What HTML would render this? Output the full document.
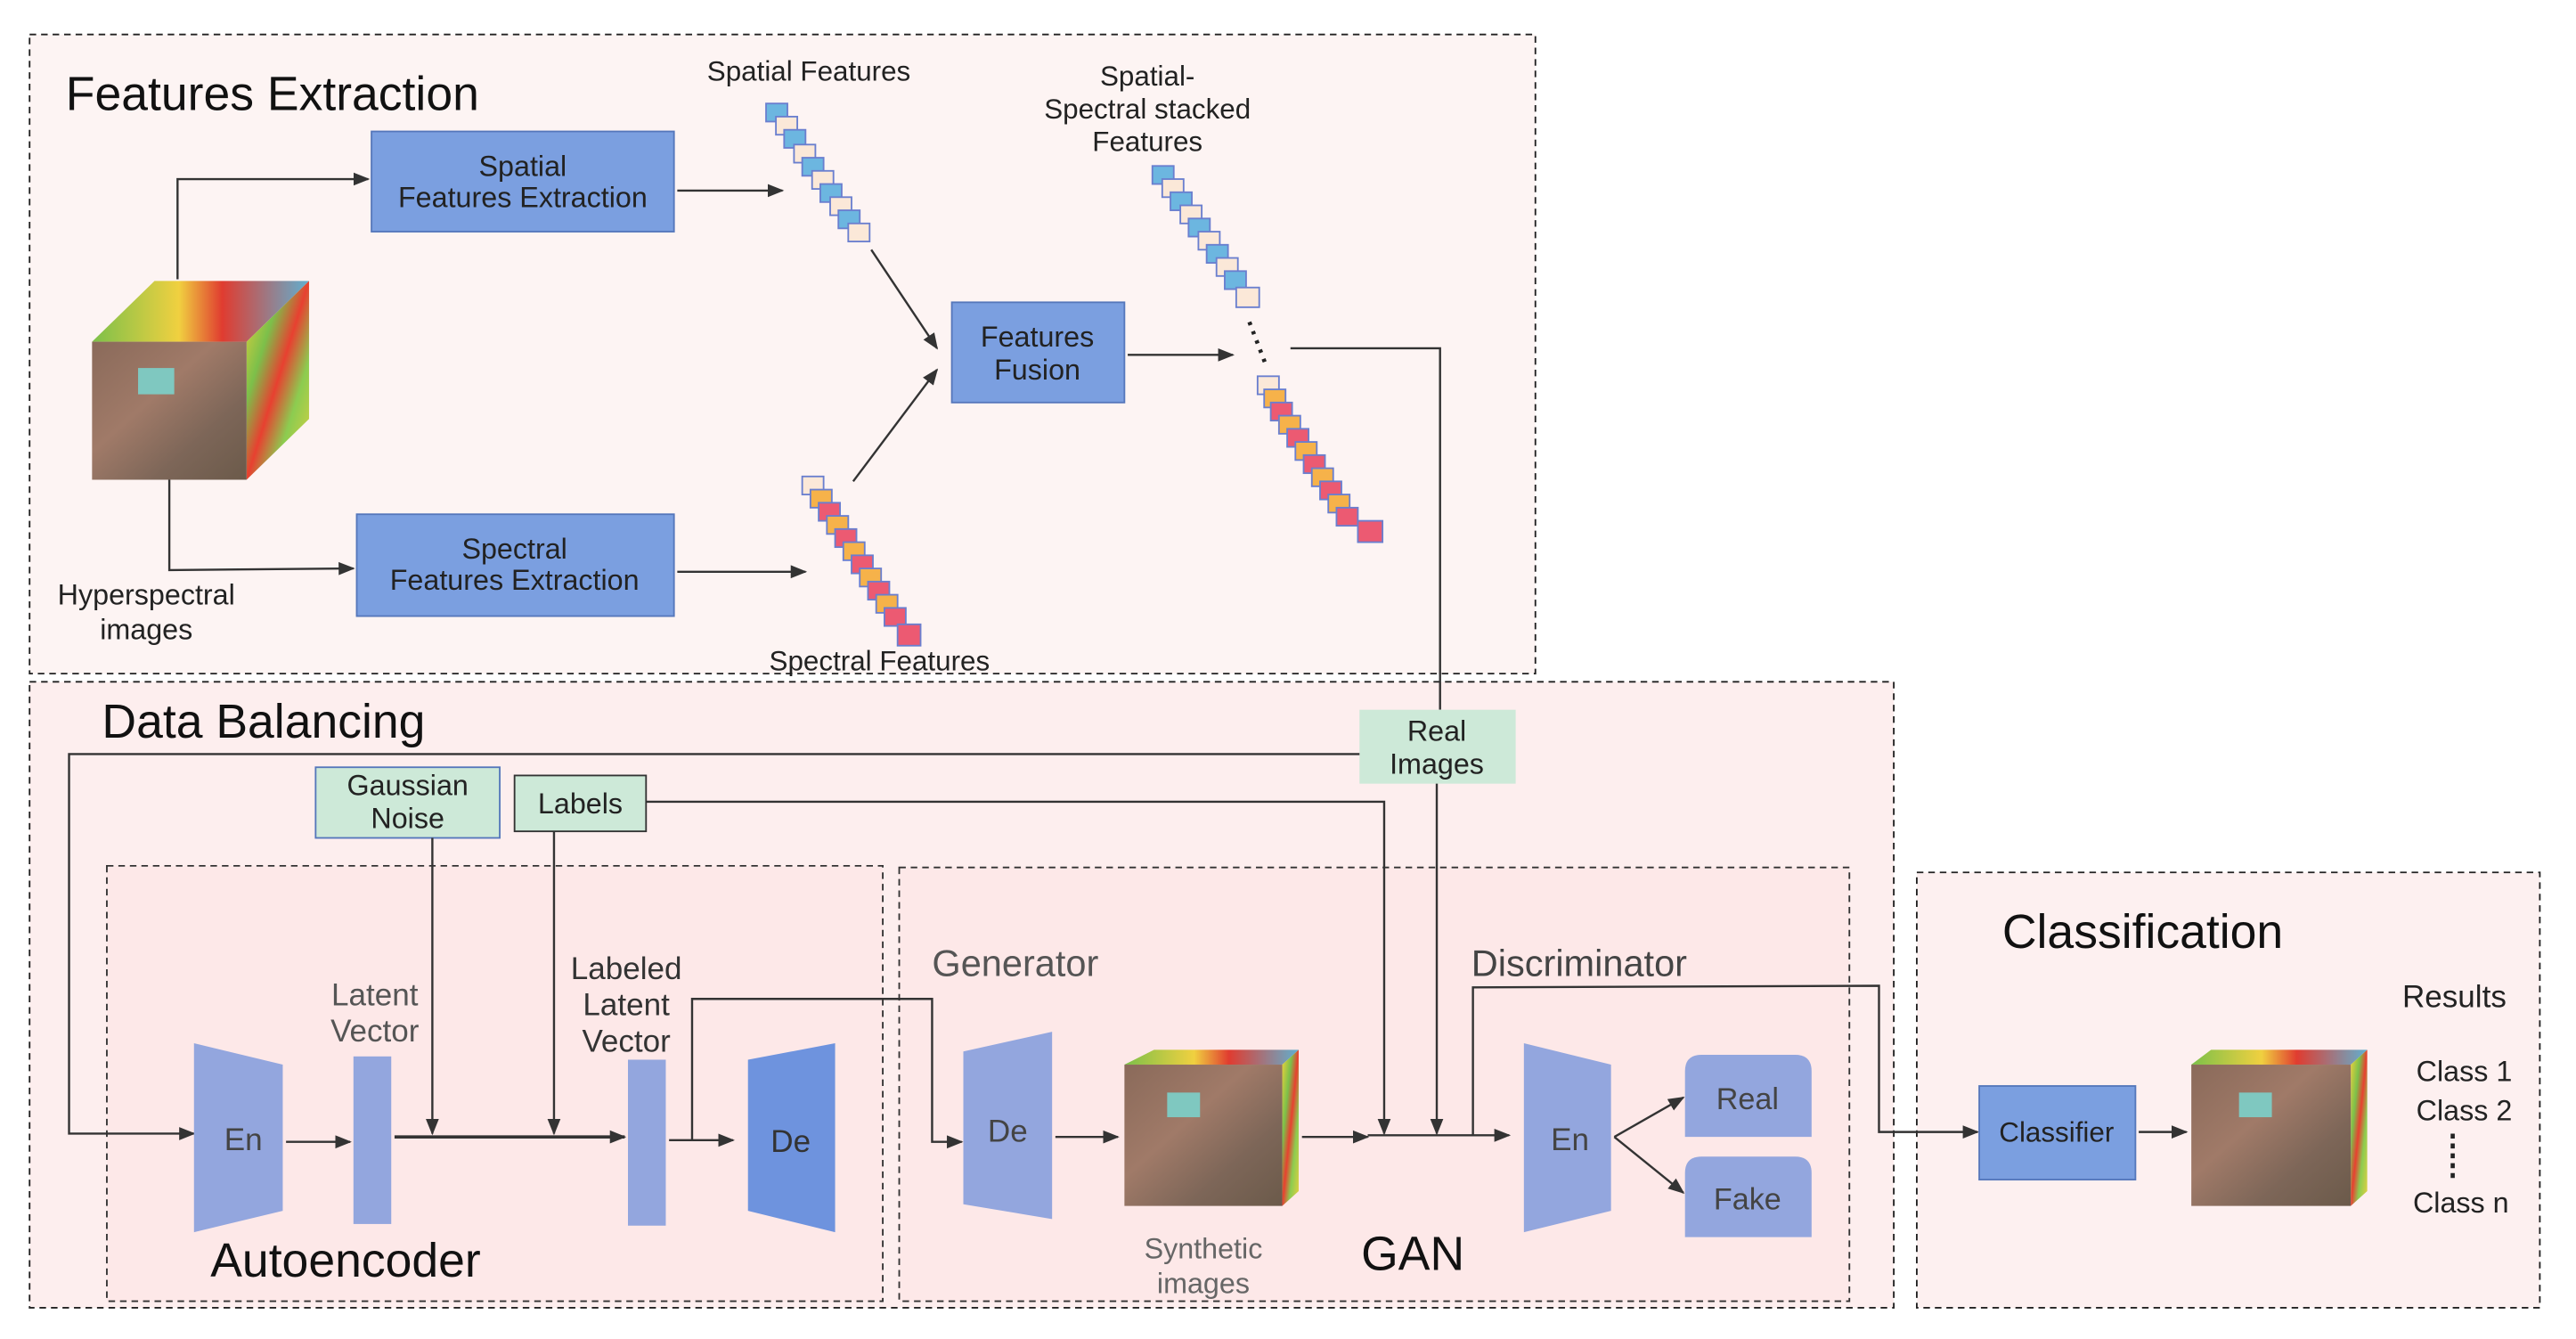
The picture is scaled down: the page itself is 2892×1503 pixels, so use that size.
<!DOCTYPE html>
<html><head><meta charset="utf-8"><style>
html,body{margin:0;padding:0;background:#fff;}
svg{display:block;}
text{font-family:"Liberation Sans",sans-serif;}
</style></head><body>
<svg width="2892" height="1503" viewBox="0 0 1567 815" preserveAspectRatio="none" xmlns="http://www.w3.org/2000/svg">
<defs>
<marker id="a" markerWidth="10" markerHeight="10" refX="9" refY="5" orient="auto" markerUnits="userSpaceOnUse"><path d="M0,1 L10,5 L0,9 Z" fill="#333"/></marker>
<linearGradient id="photo" x1="0" y1="0" x2="1" y2="1"><stop offset="0" stop-color="#8a6a5a"/><stop offset="0.4" stop-color="#a07a68"/><stop offset="0.7" stop-color="#7d6658"/><stop offset="1" stop-color="#6b5a4a"/></linearGradient>
<linearGradient id="side" x1="0" y1="0" x2="1" y2="1"><stop offset="0" stop-color="#f2d23a"/><stop offset="0.3" stop-color="#7cc04a"/><stop offset="0.5" stop-color="#e84030"/><stop offset="0.7" stop-color="#8ccc50"/><stop offset="1" stop-color="#e8d040"/></linearGradient>
<linearGradient id="top" x1="0" y1="0" x2="1" y2="0"><stop offset="0" stop-color="#7cc04a"/><stop offset="0.4" stop-color="#f0d040"/><stop offset="0.6" stop-color="#e03c30"/><stop offset="1" stop-color="#60b0d0"/></linearGradient>
</defs>
<!-- containers -->
<rect x="18" y="21" width="916" height="389" fill="#fdf4f3" stroke="#222" stroke-dasharray="4,3"/>
<rect x="18" y="415" width="1134" height="381" fill="#fdeeee" stroke="#222" stroke-dasharray="4,3"/>
<rect x="65" y="527" width="472" height="265" fill="#fde8e8" stroke="#333" stroke-dasharray="4,3"/>
<rect x="547" y="528" width="578" height="264" fill="#fde8e8" stroke="#333" stroke-dasharray="4,3"/>
<rect x="1166" y="531" width="379" height="265" fill="#fdf0f0" stroke="#222" stroke-dasharray="4,3"/>

<!-- titles -->
<text x="40" y="67" font-size="29" fill="#111">Features Extraction</text>
<text x="62" y="449" font-size="29" fill="#111">Data Balancing</text>
<text x="128" y="777" font-size="29" fill="#111">Autoencoder</text>
<text x="828" y="773" font-size="29" fill="#111">GAN</text>
<text x="1218" y="577" font-size="29" fill="#111">Classification</text>

<!-- FE boxes -->
<rect x="226" y="80" width="184" height="61" fill="#7b9fe0" stroke="#5577bb"/>
<text x="318" y="107" font-size="17.5" text-anchor="middle" fill="#222">Spatial</text>
<text x="318" y="126" font-size="17.5" text-anchor="middle" fill="#222">Features Extraction</text>
<rect x="217" y="313" width="193" height="62" fill="#7b9fe0" stroke="#5577bb"/>
<text x="313" y="340" font-size="17.5" text-anchor="middle" fill="#222">Spectral</text>
<text x="313" y="359" font-size="17.5" text-anchor="middle" fill="#222">Features Extraction</text>
<rect x="579" y="184" width="105" height="61" fill="#7b9fe0" stroke="#5577bb"/>
<text x="631" y="211" font-size="17.5" text-anchor="middle" fill="#222">Features</text>
<text x="631" y="231" font-size="17.5" text-anchor="middle" fill="#222">Fusion</text>

<!-- hyperspectral cube -->
<polygon points="56,208 94,171 188,171 150,208" fill="url(#top)"/>
<polygon points="150,208 188,171 188,255 150,292" fill="url(#side)"/>
<rect x="56" y="208" width="94" height="84" fill="url(#photo)"/>
<rect x="84" y="224" width="22" height="16" fill="#7fc8c0"/>
<text x="89" y="368" font-size="17.5" text-anchor="middle" fill="#222">Hyperspectral</text>
<text x="89" y="389" font-size="17.5" text-anchor="middle" fill="#222">images</text>

<!-- feature stacks -->
<g stroke="#6a7fcf" stroke-width="1">
<rect x="466" y="63" width="13" height="11" fill="#6cb6e0"/><rect x="472" y="71" width="13" height="11" fill="#fbe8d8"/>
<rect x="477" y="79" width="13" height="11" fill="#6cb6e0"/><rect x="483" y="88" width="13" height="11" fill="#fbe8d8"/>
<rect x="488" y="96" width="13" height="11" fill="#6cb6e0"/><rect x="494" y="104" width="13" height="11" fill="#fbe8d8"/>
<rect x="499" y="112" width="13" height="11" fill="#6cb6e0"/><rect x="505" y="120" width="13" height="11" fill="#fbe8d8"/>
<rect x="510" y="128" width="13" height="11" fill="#6cb6e0"/><rect x="516" y="136" width="13" height="11" fill="#fbe8d8"/>
</g>
<g stroke="#6a7fcf">
<rect x="488" y="290" width="13" height="11" fill="#fbe8d8"/><rect x="493" y="298" width="13" height="11" fill="#f6b24a"/>
<rect x="498" y="306" width="13" height="11" fill="#ec5a72"/><rect x="503" y="314" width="13" height="11" fill="#f6b24a"/>
<rect x="508" y="322" width="13" height="11" fill="#ec5a72"/><rect x="513" y="330" width="13" height="11" fill="#f6b24a"/>
<rect x="518" y="338" width="13" height="11" fill="#ec5a72"/><rect x="523" y="346" width="13" height="11" fill="#f6b24a"/>
<rect x="528" y="354" width="13" height="11" fill="#ec5a72"/><rect x="533" y="362" width="13" height="11" fill="#f6b24a"/>
<rect x="538" y="370" width="13" height="11" fill="#ec5a72"/><rect x="546" y="380" width="14" height="13" fill="#ec5a72"/>
</g>
<g stroke="#6a7fcf">
<rect x="701" y="101" width="13" height="11" fill="#6cb6e0"/><rect x="707" y="109" width="13" height="11" fill="#fbe8d8"/>
<rect x="712" y="117" width="13" height="11" fill="#6cb6e0"/><rect x="718" y="125" width="13" height="11" fill="#fbe8d8"/>
<rect x="723" y="133" width="13" height="11" fill="#6cb6e0"/><rect x="729" y="141" width="13" height="11" fill="#fbe8d8"/>
<rect x="734" y="149" width="13" height="11" fill="#6cb6e0"/><rect x="740" y="157" width="13" height="11" fill="#fbe8d8"/>
<rect x="745" y="165" width="13" height="11" fill="#6cb6e0"/><rect x="752" y="175" width="14" height="12" fill="#fbe8d8"/>
<rect x="765" y="229" width="13" height="11" fill="#fbe8d8"/><rect x="769" y="237" width="13" height="11" fill="#f6b24a"/>
<rect x="773" y="245" width="13" height="11" fill="#ec5a72"/><rect x="778" y="253" width="13" height="11" fill="#f6b24a"/>
<rect x="783" y="261" width="13" height="11" fill="#ec5a72"/><rect x="788" y="269" width="13" height="11" fill="#f6b24a"/>
<rect x="793" y="277" width="13" height="11" fill="#ec5a72"/><rect x="798" y="285" width="13" height="11" fill="#f6b24a"/>
<rect x="803" y="293" width="13" height="11" fill="#ec5a72"/><rect x="808" y="301" width="13" height="11" fill="#f6b24a"/>
<rect x="813" y="309" width="13" height="11" fill="#ec5a72"/><rect x="826" y="317" width="15" height="13" fill="#ec5a72"/>
</g>
<line x1="760" y1="196" x2="770" y2="222" stroke="#222" stroke-width="2.5" stroke-dasharray="2,4"/>
<text x="492" y="49" font-size="17" text-anchor="middle" fill="#222">Spatial  Features</text>
<text x="698" y="52" font-size="17" text-anchor="middle" fill="#222">Spatial-</text>
<text x="698" y="72" font-size="17" text-anchor="middle" fill="#222">Spectral stacked</text>
<text x="698" y="92" font-size="17" text-anchor="middle" fill="#222">Features</text>
<text x="535" y="408" font-size="17" text-anchor="middle" fill="#222">Spectral Features</text>

<!-- FE arrows -->
<g stroke="#333" stroke-width="1.3" fill="none" marker-end="url(#a)">
<polyline points="108,170 108,109 224,109"/>
<line x1="412" y1="116" x2="476" y2="116"/>
<line x1="530" y1="152" x2="570" y2="212"/>
<line x1="519" y1="293" x2="570" y2="225"/>
<polyline points="103,292 103,347 215,346"/>
<line x1="412" y1="348" x2="490" y2="348"/>
<line x1="686" y1="216" x2="750" y2="216"/>
</g>
<polyline points="785,212 876,212 876,432" stroke="#333" stroke-width="1.3" fill="none"/>

<!-- DB boxes -->
<rect x="827" y="432" width="95" height="45" fill="#cde9d8"/>
<text x="874" y="451" font-size="17.5" text-anchor="middle" fill="#222">Real</text>
<text x="874" y="471" font-size="17.5" text-anchor="middle" fill="#222">Images</text>
<rect x="192" y="467" width="112" height="43" fill="#cde9d8" stroke="#5577bb"/>
<text x="248" y="484" font-size="17.5" text-anchor="middle" fill="#222">Gaussian</text>
<text x="248" y="504" font-size="17.5" text-anchor="middle" fill="#222">Noise</text>
<rect x="313" y="472" width="80" height="34" fill="#cde9d8" stroke="#333"/>
<text x="353" y="495" font-size="17.5" text-anchor="middle" fill="#222">Labels</text>

<!-- DB lines -->
<g stroke="#333" stroke-width="1.3" fill="none">
<polyline points="827,459 42,459 42,690 118,690" marker-end="url(#a)"/>
<line x1="263" y1="510" x2="263" y2="690" marker-end="url(#a)"/>
<line x1="337" y1="506" x2="337" y2="690" marker-end="url(#a)"/>
<polyline points="393,488 842,488 842,690" marker-end="url(#a)"/>
<line x1="874" y1="477" x2="874" y2="690" marker-end="url(#a)"/>
<line x1="174" y1="695" x2="213" y2="695" marker-end="url(#a)"/>
<line x1="240" y1="692" x2="380" y2="692" marker-end="url(#a)" stroke-width="2"/>
<line x1="407" y1="694" x2="446" y2="694" marker-end="url(#a)"/>
<polyline points="421,694 421,608 567,608 567,695 585,695" marker-end="url(#a)"/>
<line x1="642" y1="692" x2="680" y2="692" marker-end="url(#a)"/>
<line x1="792" y1="692" x2="832" y2="692" marker-end="url(#a)"/>
<line x1="832" y1="691" x2="918" y2="691" marker-end="url(#a)"/>
<polyline points="896,691 896,601 1143,600 1143,689 1203,689" marker-end="url(#a)"/>
<line x1="982" y1="692" x2="1024" y2="668" marker-end="url(#a)"/>
<line x1="982" y1="692" x2="1024" y2="726" marker-end="url(#a)"/>
<line x1="1301" y1="689" x2="1330" y2="689" marker-end="url(#a)"/>
</g>

<!-- autoencoder -->
<polygon points="118,635 172,648 172,737 118,750" fill="#93a6de"/>
<text x="148" y="700" font-size="19" text-anchor="middle" fill="#444">En</text>
<rect x="215" y="643" width="23" height="102" fill="#93a6de"/>
<rect x="382" y="645" width="23" height="101" fill="#93a6de"/>
<polygon points="455,645 508,635 508,750 455,737" fill="#6e93de"/>
<text x="481" y="701" font-size="19" text-anchor="middle" fill="#333">De</text>
<text x="228" y="612" font-size="19" text-anchor="middle" fill="#555">Latent</text>
<text x="228" y="634" font-size="19" text-anchor="middle" fill="#555">Vector</text>
<text x="381" y="596" font-size="19" text-anchor="middle" fill="#333">Labeled</text>
<text x="381" y="618" font-size="19" text-anchor="middle" fill="#333">Latent</text>
<text x="381" y="640" font-size="19" text-anchor="middle" fill="#333">Vector</text>

<!-- GAN -->
<text x="567" y="594" font-size="22.5" fill="#555">Generator</text>
<text x="895" y="594" font-size="22.5" fill="#444">Discriminator</text>
<polygon points="586,640 640,628 640,742 586,733" fill="#93a6de"/>
<text x="613" y="695" font-size="19" text-anchor="middle" fill="#444">De</text>
<polygon points="684,648 702,639 790,639 780,648" fill="url(#top)"/>
<polygon points="780,648 790,639 790,725 780,734" fill="url(#side)"/>
<rect x="684" y="648" width="96" height="86" fill="url(#photo)"/>
<rect x="710" y="665" width="20" height="15" fill="#7fc8c0"/>
<text x="732" y="766" font-size="17.5" text-anchor="middle" fill="#666">Synthetic</text>
<text x="732" y="787" font-size="17.5" text-anchor="middle" fill="#666">images</text>
<polygon points="927,635 980,648 980,737 927,750" fill="#93a6de"/>
<text x="955" y="700" font-size="19" text-anchor="middle" fill="#444">En</text>
<path d="M1025,692 L1025,652 Q1025,642 1035,642 L1092,642 Q1102,642 1102,652 L1102,692 Z" fill="#93a6de"/>
<text x="1063" y="675" font-size="18.5" text-anchor="middle" fill="#444">Real</text>
<path d="M1025,753 L1025,714 Q1025,704 1035,704 L1092,704 Q1102,704 1102,714 L1102,753 Z" fill="#93a6de"/>
<text x="1063" y="736" font-size="18.5" text-anchor="middle" fill="#444">Fake</text>

<!-- classification -->
<rect x="1204" y="661" width="95" height="57" fill="#7b9fe0" stroke="#5577bb"/>
<text x="1251" y="695" font-size="17" text-anchor="middle" fill="#222">Classifier</text>
<polygon points="1333,648 1345,639 1440,639 1430,648" fill="url(#top)"/>
<polygon points="1430,648 1440,639 1440,725 1430,734" fill="url(#side)"/>
<rect x="1333" y="648" width="97" height="86" fill="url(#photo)"/>
<rect x="1362" y="665" width="20" height="15" fill="#7fc8c0"/>
<text x="1493" y="613" font-size="19" text-anchor="middle" fill="#222">Results</text>
<text x="1499" y="658" font-size="17.5" text-anchor="middle" fill="#222">Class 1</text>
<text x="1499" y="682" font-size="17.5" text-anchor="middle" fill="#222">Class 2</text>
<line x1="1492" y1="690" x2="1492" y2="720" stroke="#222" stroke-width="2.5" stroke-dasharray="3,3"/>
<text x="1497" y="738" font-size="17.5" text-anchor="middle" fill="#222">Class n</text>
</svg>
</body></html>
